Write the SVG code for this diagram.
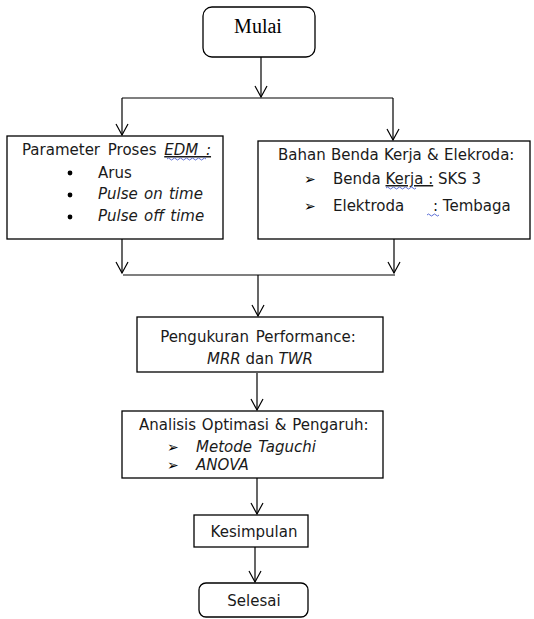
<svg xmlns="http://www.w3.org/2000/svg" width="534" height="619" viewBox="0 0 534 619">
<defs>
<marker id="arr" markerWidth="14" markerHeight="14" refX="12" refY="7" orient="auto" markerUnits="userSpaceOnUse" viewBox="0 0 14 14">
<polyline points="1,1 12,7 1,13" fill="none" stroke="#000" stroke-width="1.2"/>
</marker>
</defs>
<style>
.box{fill:#fff;stroke:#000;stroke-width:1.3}
.ln{fill:none;stroke:#000;stroke-width:1.2}
.ar{fill:none;stroke:#000;stroke-width:1.2;marker-end:url(#arr)}
.t{font-family:"DejaVu Sans","Liberation Sans",sans-serif;font-size:15px;fill:#1a1a1a}
.i{font-style:italic}
.bl{font-family:"DejaVu Sans",sans-serif;font-size:14px;font-weight:bold;fill:#000}
.serif{font-family:"Liberation Serif","Times New Roman",serif;font-size:20px;fill:#000}
.sq{fill:none;stroke:#4a5fd0;stroke-width:0.9}
</style>
<g id="connectors">
<line class="ar" x1="261" y1="57" x2="261" y2="97"/>
<line class="ln" x1="122" y1="98" x2="393" y2="98"/>
<line class="ar" x1="122" y1="98" x2="122" y2="135"/>
<line class="ar" x1="393" y1="98" x2="393" y2="140"/>
<line class="ar" x1="122" y1="239" x2="122" y2="273"/>
<line class="ar" x1="394" y1="239" x2="394" y2="273"/>
<line class="ln" x1="123" y1="275" x2="395" y2="275"/>
<line class="ar" x1="258" y1="275" x2="258" y2="316"/>
<line class="ar" x1="257" y1="373" x2="257" y2="410"/>
<line class="ar" x1="257" y1="478" x2="257" y2="514"/>
<line class="ar" x1="255" y1="547" x2="255" y2="582"/>
</g>
<g id="mulai">
<rect class="box" x="203" y="7" width="112" height="50" rx="9"/>
<text class="serif" x="258" y="33" text-anchor="middle">Mulai</text>
</g>
<g id="parameter">
<rect class="box" x="7" y="136" width="216" height="103"/>
<text class="t" x="22" y="155" word-spacing="3">Parameter Proses <tspan class="i" text-decoration="underline">EDM :</tspan></text>
<path class="sq" d="M167,159 q1.5,-2 3,0 t3,0 t3,0 t3,0 t3,0 t3,0 t3,0 t3,0 t3,0 t3,0 t3,0 t3,0 t3,0"/>
<circle cx="70" cy="173" r="2.4"/>
<circle cx="70" cy="195" r="2.4"/>
<circle cx="70" cy="217" r="2.4"/>
<text class="t" x="98" y="178">Arus</text>
<text class="t i" x="98" y="199" word-spacing="1.5">Pulse on time</text>
<text class="t i" x="98" y="221" word-spacing="1.5">Pulse off time</text>
</g>
<g id="bahan">
<rect class="box" x="258" y="141" width="272" height="98"/>
<text class="t" x="278" y="160" word-spacing="0.5">Bahan Benda Kerja &amp; Elekroda:</text>
<text class="bl" x="304" y="184">➢</text>
<text class="t" x="333" y="184">Benda <tspan text-decoration="underline">Kerja :</tspan> SKS 3</text>
<path class="sq" d="M386,188 q1.5,-2 3,0 t3,0 t3,0 t3,0 t3,0 t3,0 t3,0 t3,0 t3,0 t3,0"/>
<text class="bl" x="304" y="211">➢</text>
<text class="t" x="333" y="211">Elektroda</text>
<text class="t" x="433" y="211">: Tembaga</text>
<path class="sq" d="M427,215 q1.5,-2 3,0 t3,0 t3,0 t3,0"/>
</g>
<g id="pengukuran">
<rect class="box" x="137" y="317" width="246" height="55"/>
<text class="t" x="258" y="342" text-anchor="middle" word-spacing="2">Pengukuran Performance:</text>
<text class="t" x="260" y="364" text-anchor="middle"><tspan class="i">MRR</tspan> dan <tspan class="i">TWR</tspan></text>
</g>
<g id="analisis">
<rect class="box" x="122" y="411" width="261" height="67"/>
<text class="t" x="139" y="430" word-spacing="1">Analisis Optimasi &amp; Pengaruh:</text>
<text class="bl" x="167" y="452">➢</text>
<text class="t i" x="196" y="452" word-spacing="1.5">Metode Taguchi</text>
<text class="bl" x="167" y="470">➢</text>
<text class="t i" x="196" y="470">ANOVA</text>
</g>
<g id="kesimpulan">
<rect class="box" x="194" y="515" width="114" height="32"/>
<text class="t" x="254" y="537" text-anchor="middle">Kesimpulan</text>
</g>
<g id="selesai">
<rect class="box" x="199" y="583" width="109" height="34" rx="7"/>
<text class="t" x="254" y="606" text-anchor="middle">Selesai</text>
</g>
</svg>
